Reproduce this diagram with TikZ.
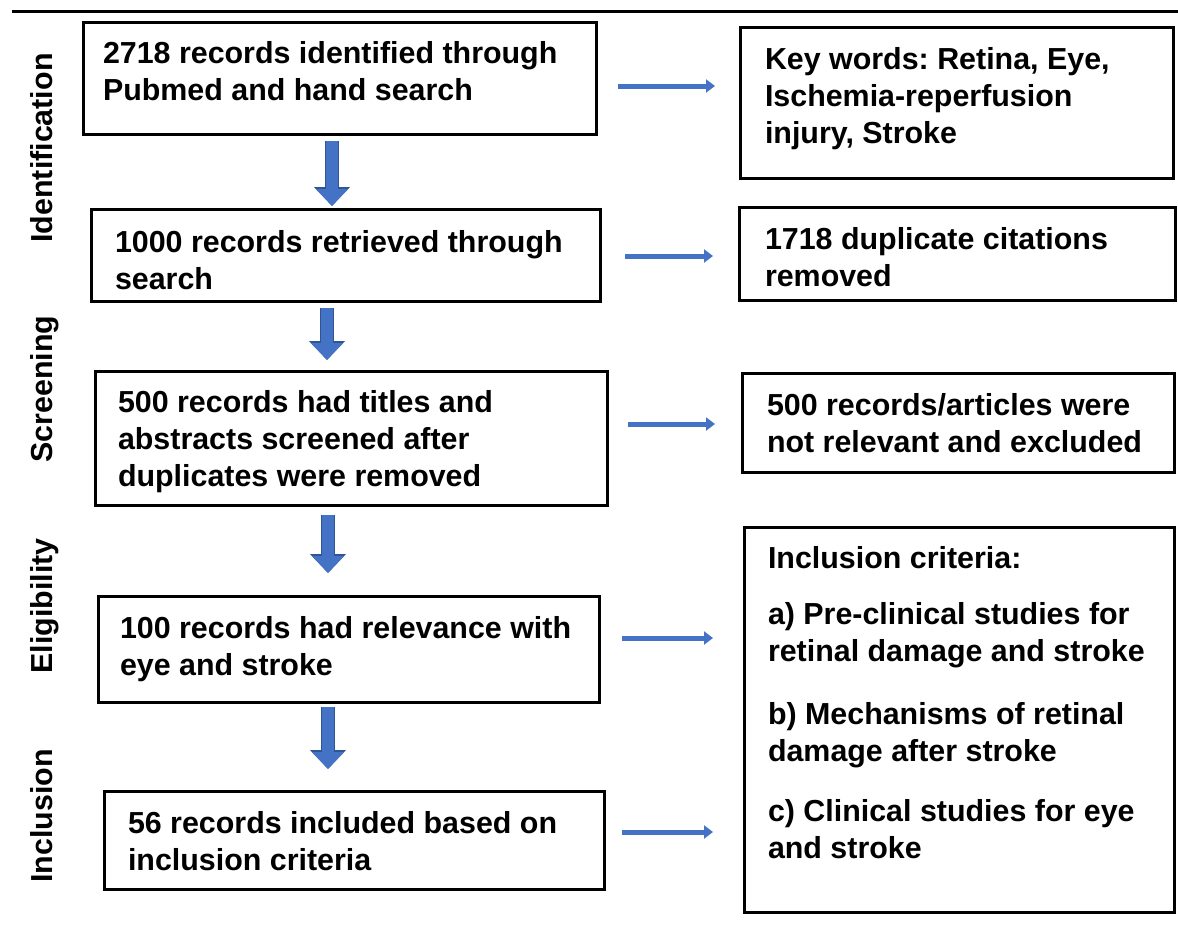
\documentclass[tikz,border=0pt]{standalone}
\usepackage{fontspec}
\setmainfont{Liberation Sans}
\usetikzlibrary{arrows.meta}
\definecolor{arrblue}{HTML}{4472C4}
\definecolor{arrdark}{HTML}{2F5597}
\frenchspacing
\newcommand\boxtext[3]{\parbox[c][#2][t]{#1}{\raggedright\rule{0pt}{24pt}#3}}
\begin{document}
\begin{tikzpicture}[x=1pt,y=-1pt,
  every node/.style={font=\bfseries\fontsize{30.4pt}{37pt}\selectfont, text=black},
  box/.style={draw=black, line width=3pt, outer sep=0pt, anchor=north west},
  stage/.style={rotate=90, anchor=base, inner sep=0pt},
  rarr/.style={draw=arrblue, line width=5pt, -{Triangle[width=13pt,length=9pt]}},
  darr/.style={draw=arrblue, line width=12pt, -{Triangle[width=31pt,length=17pt]},
    preaction={draw=arrdark, line width=14pt, -{Triangle[width=35pt,length=19pt]}}}
]
\useasboundingbox (0,0) rectangle (1178,938);
\fill[white] (0,0) rectangle (1178,938);
% top rule
\draw[line width=3pt] (12,11) -- (1178,11);

% stage labels
\node[stage] (s1) at (52,148) {Identification};
\node[stage] (s2) at (52,389) {Screening};
\node[stage] (s3) at (52,606) {Eligibility};
\node[stage] (s4) at (52,816) {Inclusion};

% left column
\node[box, inner xsep=20pt, inner ysep=17pt] (b1) at (83,22)
  {\boxtext{473pt}{78pt}{2718 records identified through\\Pubmed and hand search}};
\node[box, inner xsep=24pt, inner ysep=19pt] (b2) at (91,209)
  {\boxtext{461pt}{54pt}{1000 records retrieved through\\search}};
\node[box, inner xsep=23pt, inner ysep=17pt] (b3) at (95,371)
  {\boxtext{466pt}{100pt}{500 records had titles and\\abstracts screened after\\duplicates were removed}};
\node[box, inner xsep=22pt, inner ysep=18pt] (b4) at (98,596)
  {\boxtext{457pt}{70pt}{100 records had relevance with\\eye and stroke}};
\node[box, inner xsep=24pt, inner ysep=18pt] (b5) at (104,791)
  {\boxtext{452pt}{62pt}{56 records included based on\\inclusion criteria}};

% right column
\node[box, inner xsep=25pt, inner ysep=18pt] (k1) at (740,27)
  {\boxtext{383pt}{115pt}{Key words: Retina, Eye,\\Ischemia-reperfusion\\injury, Stroke}};
\node[box, inner xsep=26pt, inner ysep=18pt] (k2) at (739,207)
  {\boxtext{384pt}{57pt}{1718 duplicate citations\\removed}};
\node[box, inner xsep=25pt, inner ysep=18pt] (k3) at (742,373)
  {\boxtext{382pt}{63pt}{500 records/articles were\\not relevant and excluded}};
\node[box, inner xsep=24pt, inner ysep=17pt] (k4) at (744,527)
  {\boxtext{382pt}{351pt}{Inclusion criteria:\\[19pt]a) Pre-clinical studies for\\retinal damage and stroke\\[26pt]b) Mechanisms of retinal\\damage after stroke\\[23pt]c) Clinical studies for eye\\and stroke}};

% helper coordinates
\coordinate (xa) at (332,0);
\coordinate (xb) at (327,0);
\coordinate (xc) at (328,0);
\coordinate (ya) at (0,86);
\coordinate (yb) at (0,256);
\coordinate (yc) at (0,424);
\coordinate (yd) at (0,638);
\coordinate (ye) at (0,832);

% down arrows
\draw[darr, shorten <=7pt, shorten >=3pt] (b1.south -| xa) -- (b2.north -| xa);
\draw[darr, shorten <=7pt, shorten >=11pt] (b2.south -| xb) -- (b3.north -| xb);
\draw[darr, shorten <=10pt, shorten >=23pt] (b3.south -| xc) -- (b4.north -| xc);
\draw[darr, shorten <=5pt, shorten >=22pt] (b4.south -| xc) -- (b5.north -| xc);

% right arrows
\draw[rarr, shorten <=22pt, shorten >=25pt] (b1.east |- ya) -- (k1.west |- ya);
\draw[rarr, shorten <=25pt, shorten >=26pt] (b2.east |- yb) -- (k2.west |- yb);
\draw[rarr, shorten <=21pt, shorten >=27pt] (b3.east |- yc) -- (k3.west |- yc);
\draw[rarr, shorten <=23pt, shorten >=31pt] (b4.east |- yd) -- (k4.west |- yd);
\draw[rarr, shorten <=18pt, shorten >=31pt] (b5.east |- ye) -- (k4.west |- ye);
\end{tikzpicture}
\end{document}
